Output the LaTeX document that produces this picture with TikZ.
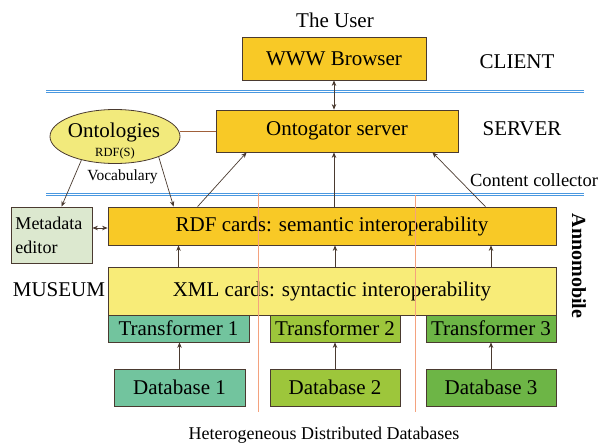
\documentclass[tikz,border=0pt]{standalone}
\usepackage{fontspec}
\setmainfont{Liberation Serif}
\usetikzlibrary{arrows.meta,positioning,shapes.geometric}

\definecolor{gold}{HTML}{F8C926}
\definecolor{paleyellow}{HTML}{F8EC78}
\definecolor{teal}{HTML}{72C49E}
\definecolor{olive}{HTML}{9DC63B}
\definecolor{leaf}{HTML}{6DB546}
\definecolor{mint}{HTML}{DCE8CF}
\definecolor{ontoyellow}{HTML}{F2EA7C}
\definecolor{boxline}{HTML}{4A3A30}
\definecolor{tierblue}{HTML}{4A98E0}
\definecolor{splitorange}{HTML}{F4A27E}
\definecolor{rod}{HTML}{A0603A}

\begin{document}
\begin{tikzpicture}[x=1pt,y=-1pt,
    card/.style={draw=boxline, line width=0.8pt, inner sep=0pt, font=\fontsize{21}{21}\selectfont},
    caption/.style={inner sep=0pt, font=\fontsize{21}{21}\selectfont},
    tip/.tip={Stealth[length=5.5pt,width=4.5pt]},
    link/.style={-tip, line width=0.7pt, draw=boxline},
    tier/.style={draw=tierblue, line width=0.8pt},
    split/.style={draw=splitorange, line width=0.8pt}]
    \useasboundingbox (0,0) rectangle (599,442);

    % tier separators
    \draw[tier] (46,90) -- (584,90);
    \draw[tier] (46,92.5) -- (584,92.5);
    \draw[tier] (46,193) -- (584,193);
    \draw[tier] (46,195.5) -- (584,195.5);

    % client and server
    \node[caption] (user) at (335,20) {The User};
    \node[card, fill=gold, minimum width=184, minimum height=43] (browser) at (334,58.5) {WWW Browser};
    \node[caption] (client) at (517,62) {CLIENT};
    \node[card, fill=gold, minimum width=242, minimum height=42] (server) at (337,131) {Ontogator server};
    \node[caption] (serverlbl) at (522,128.5) {SERVER};
    \node[caption, font=\fontsize{18.5}{18.5}\selectfont] (collector) at (534,180) {Content collector};

    % ontologies
    \node[ellipse, draw=boxline, line width=0.8pt, fill=ontoyellow, minimum width=130, minimum height=54, inner sep=0pt] (onto) at (115,136.5) {};
    \node[caption, anchor=base] (ontotitle) at (114,137) {Ontologies};
    \node[caption, anchor=base, font=\fontsize{12.5}{12.5}\selectfont] (rdfs) at (115,156) {RDF(S)};
    \node[caption, anchor=base, font=\fontsize{15.5}{15.5}\selectfont] (vocab) at (122.5,180) {Vocabulary};
    \draw[rod, line width=0.8pt] (server.west) -- (server.west -| onto.east);

    % museum side
    \node[card, fill=gold, minimum width=448, minimum height=38] (rdf) at (332,226) {RDF cards: semantic interoperability};
    \node[card, fill=paleyellow, minimum width=448, minimum height=48] (xml) at (332,291) {XML cards: syntactic interoperability};
    \node[caption] (museum) at (59,290) {MUSEUM};
    \node[card, fill=mint, minimum width=81, minimum height=56, text width=72, align=left, font=\fontsize{18}{24}\selectfont] (meta) at (51.5,235) {Metadata\\editor};

    \node[card, fill=teal, minimum width=141, minimum height=27] (tr1) at (178.5,328.5) {Transformer 1};
    \node[card, fill=olive, minimum width=130, minimum height=27] (tr2) at (335,328.5) {Transformer 2};
    \node[card, fill=leaf, minimum width=130, minimum height=27] (tr3) at (491,328.5) {Transformer 3};
    \node[card, fill=teal, minimum width=131, minimum height=37] (db1) at (179.5,387.5) {Database 1};
    \node[card, fill=olive, minimum width=130, minimum height=37] (db2) at (335,387.5) {Database 2};
    \node[card, fill=leaf, minimum width=130, minimum height=37] (db3) at (491,387.5) {Database 3};

    % partitions
    \draw[split] (258,193) -- (258,412);
    \draw[split] (415,195) -- (415,412);

    \node[caption, anchor=base, font=\fontsize{18}{18}\selectfont] (hetero) at (324,439) {Heterogeneous Distributed Databases};
    \node[caption, rotate=-90, font=\fontsize{20}{20}\selectfont\bfseries] (anno) at (579,266) {Annomobile};

    % connectors
    \draw[link, tip-tip] (browser.south -| 334,0) -- (server.north -| 334,0);
    \draw[link] (rdf.north -| 334,0) -- (server.south -| 334,0);
    \draw[link] ([xshift=90pt]rdf.north west) -- ([xshift=31pt]server.south west);
    \draw[link] ([xshift=-71pt]rdf.north east) -- ([xshift=-26pt]server.south east);
    \draw[link] (onto.215) -- ([xshift=10pt]meta.north);
    \draw[link] (onto.335) -- ([xshift=66pt]rdf.north west);
    \draw[link, tip-tip] ([yshift=7pt]meta.east) -- ([yshift=7pt]meta.east -| rdf.west);
    \foreach \k in {1,2,3} {
        \draw[link] (db\k.north) -- (db\k.north |- tr\k.south);
        \draw[link] (tr\k.north |- xml.north) -- (tr\k.north |- rdf.south);
    }
\end{tikzpicture}
\end{document}
